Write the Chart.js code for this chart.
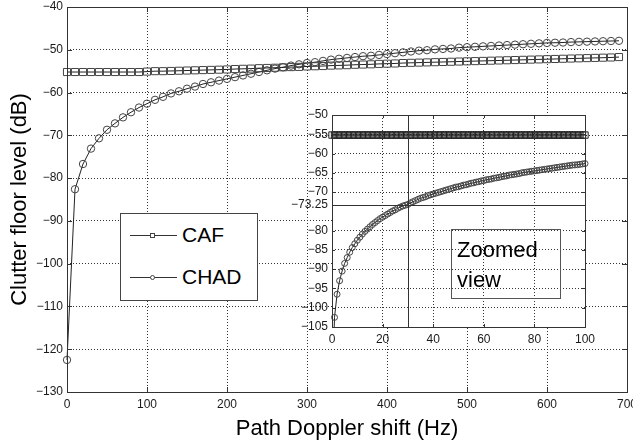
<!DOCTYPE html>
<html>
<head>
<meta charset="utf-8">
<script src="https://cdn.jsdelivr.net/npm/chart.js@4/dist/chart.umd.min.js"></script>
<style>
  body { margin: 0; background: #fff; }
  #wrap { position: relative; width: 633px; height: 444px; font-family: 'Liberation Sans', Arial, sans-serif; }
  #mainChart { position: absolute; left: 0; top: 0; }
  #insetChart { position: absolute; left: 290px; top: 99px; }
  .legend { position: absolute; left: 120px; top: 213px; width: 138px; height: 88px; box-sizing: border-box;
            border: 1px solid #444; background: #fff; }
  .legend .sample { position: absolute; left: 9px; width: 47px; height: 0; border-top: 1px solid #333; }
  .legend .mk { position: absolute; left: 20px; top: -3px; width: 5px; height: 5px; box-sizing: border-box;
                border: 1px solid #444; background: #fff; }
  .legend .mk.round { border-radius: 50%; }
  .legend .txt { position: absolute; left: 61px; font-size: 21px; line-height: 24px; color: #000; }
  .note { position: absolute; left: 451px; top: 229px; width: 110px; height: 70px; box-sizing: border-box;
          border: 1px solid #555; }
  .note span { position: absolute; left: 5px; top: 5px; font-size: 22px; line-height: 30px; color: #000; }
</style>
</head>
<body>
<div id="wrap">
  <canvas id="mainChart" width="633" height="444"></canvas>
  <canvas id="insetChart" width="310" height="245"></canvas>
  <div class="legend">
    <div class="sample" style="top:21px"><div class="mk"></div></div>
    <div class="txt" style="top:9px">CAF</div>
    <div class="sample" style="top:63px"><div class="mk round"></div></div>
    <div class="txt" style="top:51px">CHAD</div>
  </div>
  <div class="note"><span>Zoomed<br>view</span></div>
</div>
<script>
// path doppler shift samples (Hz)
const mainFreq = [0, 10, 20, 30, 40, 50, 60, 70, 80, 90,
  100, 110, 120, 130, 140, 150, 160, 170, 180, 190,
  200, 210, 220, 230, 240, 250, 260, 270, 280, 290,
  300, 310, 320, 330, 340, 350, 360, 370, 380, 390,
  400, 410, 420, 430, 440, 450, 460, 470, 480, 490,
  500, 510, 520, 530, 540, 550, 560, 570, 580, 590,
  600, 610, 620, 630, 640, 650, 660, 670, 680, 690];

// clutter floor (dB)
const mainCAF = [-55.2, -55.2, -55.2, -55.2, -55.2, -55.2, -55.2, -55.2, -55.2, -55.2,
  -55.1, -55.0, -55.0, -54.95, -54.9, -54.85, -54.8, -54.75, -54.7, -54.65,
  -54.6, -54.5, -54.45, -54.4, -54.3, -54.25, -54.2, -54.1, -54.05, -54.0,
  -53.9, -53.85, -53.8, -53.7, -53.65, -53.6, -53.5, -53.45, -53.4, -53.3,
  -53.25, -53.2, -53.1, -53.05, -53.0, -52.95, -52.9, -52.85, -52.8, -52.75,
  -52.7, -52.65, -52.6, -52.55, -52.5, -52.45, -52.4, -52.35, -52.3, -52.25,
  -52.2, -52.15, -52.1, -52.05, -52.0, -51.95, -51.9, -51.85, -51.8, -51.7];

const mainCHAD = [-122.5, -82.6, -76.7, -73.1, -70.7, -68.7, -67.2, -65.8, -64.6, -63.5,
  -62.6, -61.7, -61.0, -60.2, -59.7, -59.1, -58.6, -58.0, -57.6, -57.2,
  -56.8, -56.4, -56.0, -55.6, -55.2, -54.8, -54.4, -54.1, -53.7, -53.4,
  -53.1, -52.9, -52.6, -52.3, -52.1, -51.9, -51.7, -51.5, -51.4, -51.2,
  -51.0, -50.8, -50.6, -50.4, -50.2, -50.1, -49.9, -49.8, -49.7, -49.5,
  -49.4, -49.3, -49.2, -49.1, -49.0, -48.9, -48.8, -48.7, -48.6, -48.5,
  -48.4, -48.35, -48.3, -48.2, -48.15, -48.1, -48.05, -48.0, -47.95, -47.9];

// zoomed view, 1 Hz steps
const insetFreq = [0, 1, 2, 3, 4, 5, 6, 7, 8, 9,
  10, 11, 12, 13, 14, 15, 16, 17, 18, 19,
  20, 21, 22, 23, 24, 25, 26, 27, 28, 29,
  30, 31, 32, 33, 34, 35, 36, 37, 38, 39,
  40, 41, 42, 43, 44, 45, 46, 47, 48, 49,
  50, 51, 52, 53, 54, 55, 56, 57, 58, 59,
  60, 61, 62, 63, 64, 65, 66, 67, 68, 69,
  70, 71, 72, 73, 74, 75, 76, 77, 78, 79,
  80, 81, 82, 83, 84, 85, 86, 87, 88, 89,
  90, 91, 92, 93, 94, 95, 96, 97, 98, 99, 100];

const insetCAF = [-55.2, -55.2, -55.2, -55.2, -55.2, -55.2, -55.2, -55.2, -55.2, -55.2,
  -55.2, -55.2, -55.2, -55.2, -55.2, -55.2, -55.2, -55.2, -55.2, -55.2,
  -55.2, -55.2, -55.2, -55.2, -55.2, -55.2, -55.2, -55.2, -55.2, -55.2,
  -55.2, -55.2, -55.2, -55.2, -55.2, -55.2, -55.2, -55.2, -55.2, -55.2,
  -55.2, -55.2, -55.2, -55.2, -55.2, -55.2, -55.2, -55.2, -55.2, -55.2,
  -55.2, -55.2, -55.2, -55.2, -55.2, -55.2, -55.2, -55.2, -55.2, -55.2,
  -55.2, -55.2, -55.2, -55.2, -55.2, -55.2, -55.2, -55.2, -55.2, -55.2,
  -55.2, -55.2, -55.2, -55.2, -55.2, -55.2, -55.2, -55.2, -55.2, -55.2,
  -55.2, -55.2, -55.2, -55.2, -55.2, -55.2, -55.2, -55.2, -55.2, -55.2,
  -55.2, -55.2, -55.2, -55.2, -55.2, -55.2, -55.2, -55.2, -55.2, -55.2, -55.2];

const insetCHAD = [-122.5, -102.5, -96.5, -93.0, -90.5, -88.5, -87.0, -85.6, -84.4, -83.4,
  -82.5, -81.7, -80.9, -80.2, -79.6, -79.0, -78.4, -77.9, -77.4, -76.9,
  -76.5, -76.1, -75.7, -75.3, -74.9, -74.6, -74.2, -73.9, -73.6, -73.4,
  -73.2, -72.8, -72.5, -72.2, -71.9, -71.6, -71.4, -71.2, -70.9, -70.7,
  -70.5, -70.3, -70.1, -69.9, -69.7, -69.5, -69.3, -69.1, -68.9, -68.7,
  -68.6, -68.4, -68.2, -68.1, -67.9, -67.7, -67.6, -67.4, -67.3, -67.1,
  -67.0, -66.8, -66.7, -66.6, -66.4, -66.3, -66.2, -66.0, -65.9, -65.8,
  -65.6, -65.5, -65.4, -65.3, -65.2, -65.0, -64.9, -64.8, -64.7, -64.6,
  -64.5, -64.4, -64.3, -64.2, -64.1, -64.0, -63.9, -63.8, -63.7, -63.6,
  -63.5, -63.4, -63.3, -63.2, -63.1, -63.0, -62.95, -62.9, -62.8, -62.7, -62.6];

const insetYTicks = [-105, -100, -95, -90, -85, -80, -73.25, -70, -65, -60, -55, -50];
const markerFreq = 30;
const markerLevel = -73.25;

Chart.defaults.font.family = "'Liberation Sans', Arial, sans-serif";
Chart.defaults.color = '#1a1a1a';

const minus = v => String(v).replace('-', '\u2212');
const toPoints = (xs, ys) => xs.map((x, i) => ({ x: x, y: ys[i] }));

// matlab-like box, inward ticks, optional white background and crosshair
const axesBox = {
  id: 'axesBox',
  beforeDraw(chart, args, opts) {
    if (!opts.fill) return;
    const a = chart.chartArea;
    chart.ctx.save();
    chart.ctx.fillStyle = '#fff';
    chart.ctx.fillRect(a.left, a.top, a.right - a.left, a.bottom - a.top);
    chart.ctx.restore();
  },
  afterDraw(chart, args, opts) {
    const ctx = chart.ctx, a = chart.chartArea;
    const sx = chart.scales.x, sy = chart.scales.y;
    const len = opts.tick || 5;
    const r = v => Math.round(v) + 0.5;
    ctx.save();
    ctx.lineWidth = 1;
    ctx.strokeStyle = '#333';
    ctx.beginPath();
    if (opts.marker) {
      const mx = r(sx.getPixelForValue(opts.marker.x));
      const my = r(sy.getPixelForValue(opts.marker.y));
      ctx.moveTo(mx, a.top); ctx.lineTo(mx, a.bottom);
      ctx.moveTo(a.left, my); ctx.lineTo(a.right, my);
    }
    sx.ticks.forEach(t => {
      const px = r(sx.getPixelForValue(t.value));
      ctx.moveTo(px, a.bottom); ctx.lineTo(px, a.bottom - len);
      ctx.moveTo(px, a.top); ctx.lineTo(px, a.top + len);
    });
    sy.ticks.forEach(t => {
      const py = r(sy.getPixelForValue(t.value));
      ctx.moveTo(a.left, py); ctx.lineTo(a.left + len, py);
      ctx.moveTo(a.right, py); ctx.lineTo(a.right - len, py);
    });
    ctx.stroke();
    ctx.strokeRect(r(a.left), r(a.top), Math.round(a.right - a.left), Math.round(a.bottom - a.top));
    ctx.restore();
  }
};

const gridOpts = { color: '#333', lineWidth: 1, drawTicks: false, borderDash: [1, 2] };
const borderOpts = { display: false, dash: [1, 2] };

new Chart(document.getElementById('mainChart'), {
  type: 'line',
  data: {
    datasets: [{
      label: 'CAF',
      data: toPoints(mainFreq, mainCAF),
      borderColor: '#222',
      borderWidth: 1,
      pointStyle: 'rect',
      pointRadius: 5,
      pointBorderColor: '#444',
      pointBorderWidth: 1,
      pointBackgroundColor: 'rgba(0,0,0,0)',
      tension: 0,
      clip: 8
    }, {
      label: 'CHAD',
      data: toPoints(mainFreq, mainCHAD),
      borderColor: '#222',
      borderWidth: 1,
      pointStyle: 'circle',
      pointRadius: 3.7,
      pointBorderColor: '#444',
      pointBorderWidth: 1,
      pointBackgroundColor: 'rgba(0,0,0,0)',
      tension: 0,
      clip: 8
    }]
  },
  options: {
    responsive: false,
    animation: false,
    events: [],
    layout: { padding: { top: 7, right: 6, left: 0, bottom: 0 } },
    scales: {
      x: {
        type: 'linear',
        min: 0,
        max: 700,
        grid: gridOpts,
        border: borderOpts,
        ticks: { stepSize: 100, padding: 5, font: { size: 12 }, maxRotation: 0, callback: minus },
        title: { display: true, text: 'Path Doppler shift (Hz)', color: '#000', font: { size: 22 }, padding: { top: 0, bottom: 2 } },
        afterFit(s) { s.height = 52; s.paddingLeft = 0; s.paddingRight = 0; }
      },
      y: {
        min: -130,
        max: -40,
        grid: gridOpts,
        border: borderOpts,
        ticks: { stepSize: 10, padding: 4, font: { size: 12 }, callback: minus },
        title: { display: true, text: 'Clutter floor level (dB)', color: '#000', font: { size: 22 }, padding: { top: 7, bottom: 0 } },
        afterFit(s) { s.width = 67; s.paddingTop = 0; s.paddingBottom = 0; }
      }
    },
    plugins: {
      legend: { display: false },
      tooltip: { enabled: false },
      axesBox: { tick: 5 }
    }
  },
  plugins: [axesBox]
});

new Chart(document.getElementById('insetChart'), {
  type: 'line',
  data: {
    datasets: [{
      label: 'CAF',
      data: toPoints(insetFreq, insetCAF),
      borderColor: '#222',
      borderWidth: 1,
      pointStyle: 'rect',
      pointRadius: 4.5,
      pointBorderColor: '#222',
      pointBorderWidth: 1,
      pointBackgroundColor: 'rgba(0,0,0,0)',
      tension: 0,
      clip: { left: 6, right: 6, top: 6, bottom: 0 }
    }, {
      label: 'CHAD',
      data: toPoints(insetFreq, insetCHAD),
      borderColor: '#222',
      borderWidth: 1,
      pointStyle: 'circle',
      pointRadius: 3,
      pointBorderColor: '#444',
      pointBorderWidth: 1,
      pointBackgroundColor: 'rgba(0,0,0,0)',
      tension: 0,
      clip: { left: 6, right: 6, top: 6, bottom: 0 }
    }]
  },
  options: {
    responsive: false,
    animation: false,
    events: [],
    layout: { padding: { top: 16, right: 15, left: 0, bottom: 0 } },
    scales: {
      x: {
        type: 'linear',
        min: 0,
        max: 100,
        grid: gridOpts,
        border: borderOpts,
        ticks: { stepSize: 20, padding: 5, font: { size: 12 }, maxRotation: 0, callback: minus },
        afterFit(s) { s.height = 17; s.paddingLeft = 0; s.paddingRight = 0; }
      },
      y: {
        min: -105,
        max: -50,
        grid: {
          color: c => (c.tick && c.tick.value === markerLevel) ? 'rgba(0,0,0,0)' : '#333',
          lineWidth: 1, drawTicks: false, borderDash: [1, 2]
        },
        border: borderOpts,
        ticks: { padding: 4, font: { size: 12 }, autoSkip: false, callback: minus },
        afterBuildTicks(s) { s.ticks = insetYTicks.map(v => ({ value: v })); },
        afterFit(s) { s.width = 42; s.paddingTop = 0; s.paddingBottom = 0; }
      }
    },
    plugins: {
      legend: { display: false },
      tooltip: { enabled: false },
      axesBox: { tick: 3, fill: true, marker: { x: markerFreq, y: markerLevel } }
    }
  },
  plugins: [axesBox]
});
</script>
</body>
</html>
